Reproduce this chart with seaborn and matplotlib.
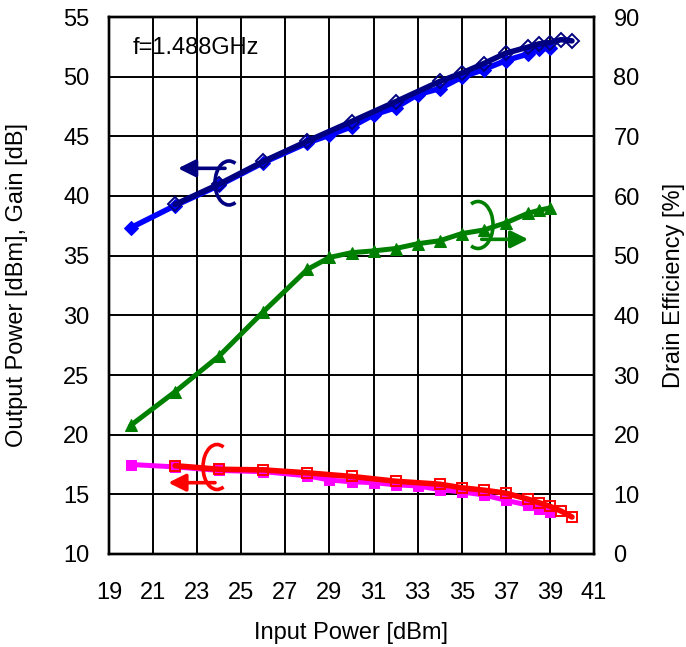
import numpy as np
import pandas as pd
import matplotlib
matplotlib.use("Agg")
import matplotlib.pyplot as plt
import seaborn as sns
from matplotlib.patches import Arc

# ---- data ----
pin_a = [20, 22, 24, 26, 28, 29, 30, 31, 32, 33, 34, 35, 36, 37, 38, 38.5, 39]
pout_a = [37.35, 39.2, 40.9, 42.8, 44.45, 45.1, 45.8, 46.8, 47.4, 48.5, 49.0, 49.96, 50.6, 51.35, 51.9, 52.3, 52.4]
gain_a = [17.5, 17.3, 17.0, 16.9, 16.55, 16.2, 16.05, 15.98, 15.8, 15.7, 15.4, 15.2, 14.95, 14.5, 14.1, 13.8, 13.5]
eff_a = [21.6, 27.2, 33.2, 40.6, 47.7, 49.7, 50.5, 50.8, 51.2, 52.0, 52.5, 53.7, 54.3, 55.5, 57.1, 57.6, 58.0]

pin_b = [22, 24, 26, 28, 30, 32, 34, 35, 36, 37, 38, 38.5, 39, 39.5, 40]
pout_b = [39.3, 41.0, 42.9, 44.6, 46.24, 47.9, 49.6, 50.3, 51.1, 51.97, 52.47, 52.75, 52.86, 53.1, 53.0]
gain_b = [17.4, 17.1, 17.05, 16.8, 16.5, 16.1, 15.85, 15.55, 15.35, 15.1, 14.6, 14.3, 14.0, 13.6, 13.1]

x_ticks = [19, 21, 23, 25, 27, 29, 31, 33, 35, 37, 39, 41]
left_ticks = [10, 15, 20, 25, 30, 35, 40, 45, 50, 55]
right_ticks = [0, 10, 20, 30, 40, 50, 60, 70, 80, 90]

df_a = pd.DataFrame({"pin": pin_a, "pout": pout_a, "gain": gain_a, "eff": eff_a})
df_b = pd.DataFrame({"pin": pin_b, "pout": pout_b, "gain": gain_b})

sns.set_style("white")
plt.rcParams["font.family"] = ["Liberation Sans", "DejaVu Sans"]
plt.rcParams["text.color"] = "black"
plt.rcParams["xtick.color"] = "black"
plt.rcParams["ytick.color"] = "black"
plt.rcParams["axes.labelcolor"] = "black"
FS = 17

fig = plt.figure(figsize=(6.86, 6.47), dpi=100)
W, H = 686, 647
x0, x1, y0, y1 = 109, 594, 17, 554
ax = fig.add_axes([x0 / W, 1 - y1 / H, (x1 - x0) / W, (y1 - y0) / H])
ax2 = ax.twinx()

# Output power and gain on left axis
sns.lineplot(data=df_a, x="pin", y="pout", ax=ax, sort=False, color="#0000FF", lw=4.0,
             marker="D", markersize=7.5, markerfacecolor="#0000FF", markeredgecolor="#0000FF", zorder=3)
sns.lineplot(data=df_b, x="pin", y="pout", ax=ax, sort=False, color="#000080", lw=4.0,
             marker="D", markersize=7.5, markerfacecolor="none", markeredgecolor="#000080",
             markeredgewidth=1.4, zorder=4)
sns.lineplot(data=df_a, x="pin", y="gain", ax=ax, sort=False, color="#FF00FF", lw=3.6,
             marker="s", markersize=7.5, markerfacecolor="#FF00FF", markeredgecolor="#FF00FF", zorder=3)
sns.lineplot(data=df_b, x="pin", y="gain", ax=ax, sort=False, color="#FF0000", lw=4.0,
             marker="s", markersize=7.5, markerfacecolor="none", markeredgecolor="#FF0000",
             markeredgewidth=1.4, zorder=4)
# Drain efficiency on right axis
sns.lineplot(data=df_a, x="pin", y="eff", ax=ax2, sort=False, color="#008000", lw=3.6,
             marker="^", markersize=8.5, markerfacecolor="#008000", markeredgecolor="#008000", zorder=3)

ax.set_xlim(19, 41)
ax.set_ylim(10, 55)
ax2.set_ylim(0, 90)
ax.set_xticks(x_ticks)
ax.set_yticks(left_ticks)
ax2.set_yticks(right_ticks)
ax.set_xlabel("")
ax.set_ylabel("")
ax2.set_ylabel("")

ax.set_axisbelow(True)
ax.grid(True, color="black", lw=1.4)
ax2.grid(False)
for a in (ax, ax2):
    for s in a.spines.values():
        s.set_color("black")
        s.set_linewidth(1.7)
        s.set_visible(True)
ax.tick_params(axis="x", length=0, pad=20, labelsize=FS)
ax.tick_params(axis="y", length=0, pad=14, labelsize=FS)
ax2.tick_params(axis="y", length=0, pad=14, labelsize=FS)

fig.text(17 / W, 1 - 285 / H, "Output Power [dBm], Gain [dB]", rotation=90,
         ha="center", va="center", fontsize=FS)
fig.text(674 / W, 1 - 285 / H, "Drain Efficiency [%]", rotation=90,
         ha="center", va="center", fontsize=FS)
fig.text(351 / W, 1 - 633 / H, "Input Power [dBm]", ha="center", va="center", fontsize=FS)

ax2.text(0.0495, 0.942, "f=1.488GHz", transform=ax2.transAxes, ha="left", va="center", fontsize=FS)

def ring(cx, cy, w, h, t1, t2, color):
    ax2.add_patch(Arc((cx, cy), w, h, theta1=t1, theta2=t2, transform=ax2.transAxes,
                      color=color, lw=2.6, zorder=6))

def arrow(xs, xe, y, color):
    ax2.annotate("", xy=(xe, y), xytext=(xs, y), xycoords=ax2.transAxes,
                 textcoords=ax2.transAxes,
                 arrowprops=dict(arrowstyle="-|>", color=color, lw=2.6, mutation_scale=26,
                                 shrinkA=0, shrinkB=0), zorder=6)

ring(0.2474, 0.6909, 0.0577, 0.0819, 70, 290, "#000080")
arrow(0.2392, 0.1423, 0.7182, "#000080")
ring(0.2227, 0.162, 0.0577, 0.0838, 70, 290, "#FF0000")
arrow(0.2186, 0.1223, 0.1328, "#FF0000")
ring(0.7608, 0.6127, 0.062, 0.0875, -110, 110, "#008000")
arrow(0.7684, 0.8643, 0.586, "#008000")

fig.savefig("out.png", dpi=100)
